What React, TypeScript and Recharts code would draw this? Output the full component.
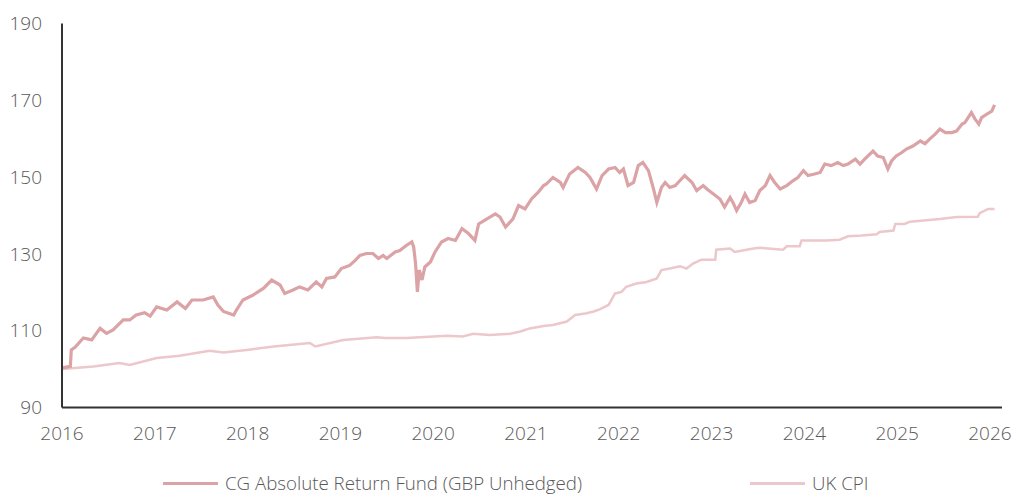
import { LineChart, Line, XAxis, YAxis } from 'recharts';

// decimal years, values
const fundDates = [
  2016.0, 2016.09, 2016.1, 2016.14, 2016.23, 2016.32, 2016.41, 2016.48, 2016.55, 2016.66,
  2016.73, 2016.8, 2016.89, 2016.95, 2017.02, 2017.13, 2017.24, 2017.33, 2017.4, 2017.52,
  2017.63, 2017.68, 2017.74, 2017.85, 2017.88, 2017.95, 2018.06, 2018.17, 2018.26, 2018.35,
  2018.4, 2018.49, 2018.56, 2018.65, 2018.74, 2018.8, 2018.85, 2018.94, 2019.01, 2019.1,
  2019.16, 2019.21, 2019.28, 2019.35, 2019.41, 2019.46, 2019.5, 2019.59, 2019.64, 2019.71,
  2019.77, 2019.79, 2019.81, 2019.83, 2019.85, 2019.88, 2019.91, 2019.97, 2020.02, 2020.09,
  2020.16, 2020.24, 2020.31, 2020.38, 2020.45, 2020.49, 2020.58, 2020.67, 2020.72, 2020.78,
  2020.86, 2020.92, 2020.99, 2021.06, 2021.13, 2021.19, 2021.22, 2021.29, 2021.37, 2021.4,
  2021.47, 2021.56, 2021.64, 2021.69, 2021.76, 2021.82, 2021.89, 2021.96, 2022.01, 2022.05,
  2022.1, 2022.16, 2022.21, 2022.26, 2022.32, 2022.37, 2022.41, 2022.46, 2022.5, 2022.55,
  2022.61, 2022.64, 2022.71, 2022.79, 2022.84, 2022.91, 2022.95, 2023.02, 2023.09, 2023.14,
  2023.2, 2023.23, 2023.27, 2023.32, 2023.36, 2023.41, 2023.47, 2023.52, 2023.58, 2023.63,
  2023.68, 2023.74, 2023.81, 2023.88, 2023.93, 2023.99, 2024.04, 2024.11, 2024.17, 2024.22,
  2024.29, 2024.36, 2024.42, 2024.47, 2024.55, 2024.6, 2024.65, 2024.74, 2024.79, 2024.85,
  2024.9, 2024.94, 2024.99, 2025.05, 2025.1, 2025.17, 2025.25, 2025.3, 2025.35, 2025.41,
  2025.46, 2025.52, 2025.59, 2025.64, 2025.7, 2025.73, 2025.8, 2025.84, 2025.88, 2025.91,
  2025.96, 2026.02, 2026.05,
];
const fundValues = [
  100.3, 100.7, 105.0, 105.7, 108.1, 107.6, 110.6, 109.3, 110.2, 112.8,
  112.8, 114.1, 114.7, 113.8, 116.2, 115.4, 117.5, 115.8, 118.0, 118.0,
  118.8, 116.7, 115.0, 114.1, 115.4, 118.0, 119.3, 121.0, 123.2, 121.9,
  119.7, 120.6, 121.4, 120.6, 122.7, 121.4, 123.6, 124.0, 126.2, 127.0,
  128.3, 129.6, 130.1, 130.1, 128.8, 129.6, 128.8, 130.5, 130.9, 132.2,
  133.1, 131.8, 127.5, 120.1, 125.8, 123.2, 126.6, 127.9, 130.5, 133.1,
  134.0, 133.5, 136.6, 135.3, 133.5, 137.8, 139.1, 140.4, 139.6, 137.0,
  139.1, 142.6, 141.7, 144.3, 146.0, 147.8, 148.2, 149.9, 148.6, 147.3,
  150.8, 152.5, 151.2, 149.9, 146.9, 150.4, 152.1, 152.5, 151.2, 152.1,
  147.8, 148.6, 153.0, 153.8, 151.7, 147.3, 143.4, 147.3, 148.6, 147.3,
  147.8, 148.6, 150.4, 148.6, 146.5, 147.8, 146.9, 145.6, 144.3, 142.2,
  144.7, 143.4, 141.3, 143.4, 145.6, 143.4, 143.9, 146.5, 147.8, 150.4,
  148.6, 146.9, 147.8, 149.1, 149.9, 151.7, 150.4, 150.8, 151.2, 153.4,
  153.0, 153.8, 153.0, 153.4, 154.7, 153.4, 154.7, 156.8, 155.5, 155.1,
  152.1, 154.2, 155.5, 156.4, 157.3, 158.1, 159.4, 158.7, 159.9, 161.2,
  162.5, 161.6, 161.6, 162.0, 163.8, 164.2, 166.8, 165.1, 163.8, 165.5,
  166.3, 167.2, 168.8,
];

const cpiDates = [
  2016.0, 2016.34, 2016.62, 2016.73, 2017.02, 2017.27, 2017.59, 2017.74, 2017.99, 2018.28,
  2018.67, 2018.73, 2019.03, 2019.39, 2019.48, 2019.71, 2020.15, 2020.32, 2020.43, 2020.61,
  2020.83, 2020.94, 2021.04, 2021.19, 2021.29, 2021.44, 2021.53, 2021.64, 2021.73, 2021.8,
  2021.89, 2021.96, 2022.03, 2022.08, 2022.19, 2022.3, 2022.41, 2022.46, 2022.55, 2022.66,
  2022.73, 2022.8, 2022.89, 2023.04, 2023.05, 2023.2, 2023.25, 2023.45, 2023.52, 2023.77,
  2023.81, 2023.95, 2023.97, 2024.24, 2024.38, 2024.47, 2024.62, 2024.78, 2024.81, 2024.96,
  2024.98, 2025.08, 2025.14, 2025.46, 2025.64, 2025.87, 2025.89, 2025.98, 2026.05,
];
const cpiValues = [
  100.0, 100.7, 101.6, 101.1, 102.9, 103.5, 104.8, 104.3, 105.0, 105.9,
  106.8, 105.9, 107.6, 108.3, 108.1, 108.1, 108.7, 108.5, 109.2, 108.9,
  109.2, 109.8, 110.6, 111.2, 111.5, 112.4, 114.1, 114.5, 115.0, 115.6,
  116.7, 119.7, 120.1, 121.4, 122.3, 122.7, 123.6, 125.8, 126.2, 126.8,
  126.2, 127.5, 128.5, 128.5, 131.1, 131.4, 130.5, 131.4, 131.6, 131.1,
  132.0, 132.0, 133.5, 133.5, 133.7, 134.6, 134.8, 135.1, 135.7, 136.1,
  137.8, 137.8, 138.4, 139.1, 139.6, 139.7, 140.6, 141.7, 141.7,
];

const yearTicks = [2016, 2017, 2018, 2019, 2020, 2021, 2022, 2023, 2024, 2025, 2026];
const valueTicks = [90, 110, 130, 150, 170, 190];

const FUND_NAME = 'CG Absolute Return Fund (GBP Unhedged)';
const CPI_NAME = 'UK CPI';
const FUND_COLOR = '#dba3a5';
const CPI_COLOR = '#ecc7cb';
const TEXT_COLOR = '#595959';
const FONT = "'Open Sans', sans-serif";

const fundData = fundDates.map((t, i) => ({ t, v: fundValues[i] }));
const cpiData = cpiDates.map((t, i) => ({ t, v: cpiValues[i] }));

const tickStyle = { fill: TEXT_COLOR, fontSize: 19, fontFamily: FONT, fontWeight: 300 };

function LegendItem({ color, label }: { color: string; label: string }) {
  return (
    <div style={{ display: 'flex', alignItems: 'center' }}>
      <div style={{ width: 55, height: 3, background: color, marginRight: 7 }} />
      <span>{label}</span>
    </div>
  );
}

export default function App() {
  return (
    <div style={{ position: 'absolute', left: 0, top: 0, width: 1013, height: 500, background: '#fff', overflow: 'hidden' }}>
      <LineChart
        width={1013}
        height={500}
        margin={{ top: 23.5, right: 11, bottom: 0, left: 0 }}
        style={{ fontFamily: FONT }}
      >
        <XAxis
          type="number"
          dataKey="t"
          domain={[2016, 2026.13]}
          ticks={yearTicks}
          allowDuplicatedCategory={false}
          height={92.5}
          tickLine={false}
          tickSize={0}
          tickMargin={19}
          axisLine={{ stroke: '#333', strokeWidth: 2 }}
          tick={tickStyle}
        />
        <YAxis
          type="number"
          domain={[90, 190]}
          ticks={valueTicks}
          width={62}
          tickLine={false}
          tickSize={0}
          tickMargin={20}
          axisLine={{ stroke: '#333', strokeWidth: 2 }}
          tick={tickStyle}
        />
        <Line
          data={cpiData}
          dataKey="v"
          name={CPI_NAME}
          type="linear"
          stroke={CPI_COLOR}
          strokeWidth={2.5}
          dot={false}
          activeDot={false}
          isAnimationActive={false}
        />
        <Line
          data={fundData}
          dataKey="v"
          name={FUND_NAME}
          type="linear"
          stroke={FUND_COLOR}
          strokeWidth={3.2}
          dot={false}
          activeDot={false}
          isAnimationActive={false}
        />
      </LineChart>
      <div
        style={{
          position: 'absolute',
          left: 163,
          top: 471,
          display: 'flex',
          gap: 168,
          fontFamily: FONT,
          fontWeight: 300,
          fontSize: 18.7,
          lineHeight: '24px',
          color: TEXT_COLOR,
          whiteSpace: 'nowrap',
        }}
      >
        <LegendItem color={FUND_COLOR} label={FUND_NAME} />
        <LegendItem color={CPI_COLOR} label={CPI_NAME} />
      </div>
    </div>
  );
}
